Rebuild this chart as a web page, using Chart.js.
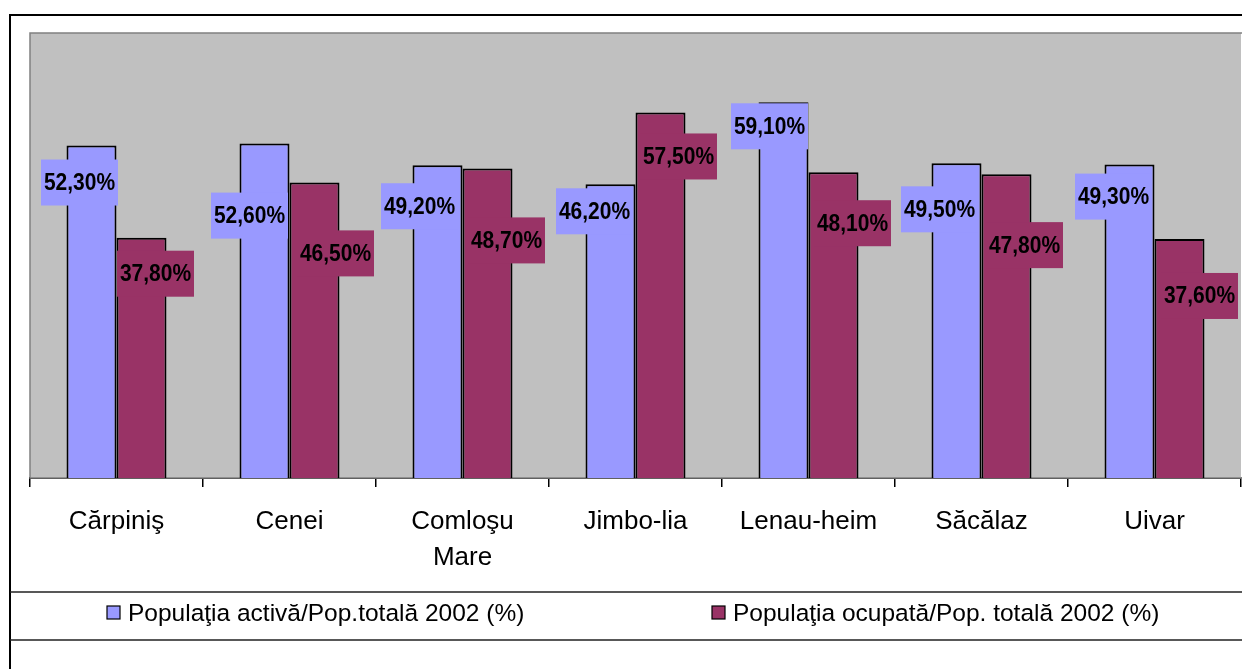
<!DOCTYPE html>
<html>
<head>
<meta charset="utf-8">
<script src="https://cdn.jsdelivr.net/npm/chart.js@4"></script>
<style>
    body { margin: 0; background: #fff; }
    #wrap { width: 1242px; height: 669px; position: relative; }
</style>
</head>
<body>
<div id="wrap"><canvas id="chart"></canvas></div>
<script>
// Dados do gráfico
const localitati = ['Cărpiniş', 'Cenei', ['Comloşu', 'Mare'], 'Jimbo-lia', 'Lenau-heim', 'Săcălaz', 'Uivar'];
const popActiva = [52.3, 52.6, 49.2, 46.2, 59.1, 49.5, 49.3];
const popOcupata = [37.8, 46.5, 48.7, 57.5, 48.1, 47.8, 37.6];
const serieNume = ['Populaţia activă/Pop.totală 2002 (%)', 'Populaţia ocupată/Pop. totală 2002 (%)'];

// Estilo
const FONT = '"Liberation Sans", Arial, sans-serif';
const cores = ['#9999FF', '#993366'];
// deslocamento das etiquetas (em px, relativo ao topo da barra)
const etiquetaDx = [[-12, -15, -18, -16, -14, -17, -16], [14, 21, 19, 18, 19, 18, 20]];
const etiquetaDy = [[37, 72, 41, 27, 24, 46, 32], [36, 71, 72, 44, 51, 71, 57]];

const fundoPlot = {
    id: 'fundoPlot',
    beforeDatasetsDraw(chart) {
        const { ctx, chartArea: a } = chart;
        ctx.save();
        ctx.fillStyle = '#C0C0C0';
        ctx.fillRect(a.left, a.top, a.right - a.left, a.bottom - a.top);
        ctx.strokeStyle = '#808080';
        ctx.lineWidth = 1.5;
        ctx.strokeRect(a.left, a.top, a.right - a.left + 5, a.bottom - a.top);
        ctx.restore();
    }
};

const etiquetas = {
    id: 'etiquetas',
    afterDatasetsDraw(chart) {
        const ctx = chart.ctx;
        chart.data.datasets.forEach((ds, d) => {
            chart.getDatasetMeta(d).data.forEach((bar, i) => {
                const cx = bar.x + etiquetaDx[d][i];
                const cy = bar.y + etiquetaDy[d][i];
                ctx.save();
                ctx.fillStyle = ds.backgroundColor;
                ctx.fillRect(cx - 38.5, cy - 23, 77, 46);
                // texto um pouco esticado na vertical, como no original
                ctx.translate(cx, cy + 1);
                ctx.scale(1, 1.12);
                ctx.font = 'bold 21px ' + FONT;
                ctx.textAlign = 'center';
                ctx.textBaseline = 'middle';
                ctx.fillStyle = '#000';
                ctx.fillText(ds.data[i].toFixed(2).replace('.', ',') + '%', 0, 0);
                ctx.restore();
            });
        });
    }
};

const moldura = {
    id: 'moldura',
    afterDraw(chart) {
        const ctx = chart.ctx;
        ctx.save();
        // moldura exterior
        ctx.strokeStyle = '#000';
        ctx.lineWidth = 2;
        ctx.strokeRect(10, 15, 1300, 700);
        // caixa da legenda
        ctx.strokeStyle = '#222';
        ctx.lineWidth = 1.5;
        ctx.beginPath();
        ctx.moveTo(10, 592); ctx.lineTo(1242, 592);
        ctx.moveTo(10, 640); ctx.lineTo(1242, 640);
        ctx.stroke();
        // itens da legenda
        const xs = [107, 712];
        ctx.font = '24.5px ' + FONT;
        ctx.textBaseline = 'middle';
        ctx.textAlign = 'left';
        chart.data.datasets.forEach((ds, d) => {
            ctx.fillStyle = ds.backgroundColor;
            ctx.fillRect(xs[d], 606, 13, 13);
            ctx.lineWidth = 1.2;
            ctx.strokeStyle = '#000';
            ctx.strokeRect(xs[d], 606, 13, 13);
            ctx.fillStyle = '#000';
            ctx.fillText(ds.label, xs[d] + 21, 614);
        });
        ctx.restore();
    }
};

new Chart(document.getElementById('chart'), {
    type: 'bar',
    data: {
        labels: localitati,
        datasets: [
            { label: serieNume[0], data: popActiva, backgroundColor: cores[0] },
            { label: serieNume[1], data: popOcupata, backgroundColor: cores[1] }
        ]
    },
    options: {
        responsive: true,
        maintainAspectRatio: false,
        animation: false,
        layout: { padding: { left: 30, top: 33, right: 1, bottom: 0 } },
        datasets: {
            bar: {
                borderColor: '#000',
                borderWidth: 2,
                categoryPercentage: 0.578,
                barPercentage: 1
            }
        },
        plugins: {
            legend: { display: false },
            tooltip: { enabled: false }
        },
        scales: {
            x: {
                afterFit: (scale) => { scale.height = 191; },
                border: { display: true, color: '#000', width: 2 },
                grid: { drawOnChartArea: false, drawTicks: true, tickLength: 9, color: '#000', lineWidth: 1.5 },
                ticks: {
                    color: '#000',
                    padding: 17,
                    maxRotation: 0,
                    autoSkip: false,
                    font: { family: FONT, size: 26, lineHeight: 1.38 }
                }
            },
            y: {
                display: false,
                min: 0,
                max: 70
            }
        }
    },
    plugins: [fundoPlot, etiquetas, moldura]
});
</script>
</body>
</html>
